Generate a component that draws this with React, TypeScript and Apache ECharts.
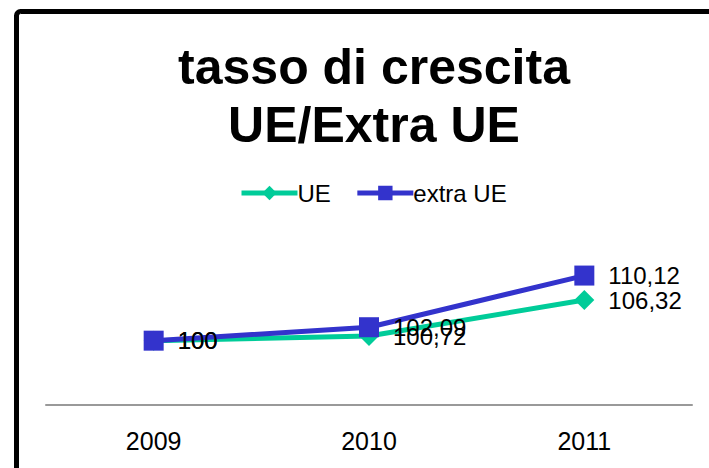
import React, { useEffect, useRef } from "react";
import * as echarts from "echarts";

const categories = ["2009", "2010", "2011"];
const ueValues = [100, 100.72, 106.32];
const extraUeValues = [100, 102.09, 110.12];
const titleText = "tasso di crescita\nUE/Extra UE";

const fmt = (v: number) => String(v).replace(".", ",");

export default function App() {
  const ref = useRef<HTMLDivElement>(null);
  useEffect(() => {
    if (!ref.current) return;
    const chart = echarts.init(ref.current, null, { renderer: "svg" });
    const font = "'Liberation Sans', Arial, sans-serif";
    chart.setOption({
      animation: false,
      backgroundColor: "#ffffff",
      textStyle: { fontFamily: font },
      title: {
        text: titleText,
        left: 369,
        top: 33,
        textAlign: "center",
        textStyle: {
          fontFamily: font,
          fontSize: 50,
          fontWeight: "bold",
          lineHeight: 58,
          color: "#000",
        },
      },
      legend: {
        left: 234,
        top: 176,
        itemWidth: 56,
        itemHeight: 18,
        itemGap: 24,
        lineStyle: { width: 5 },
        textStyle: { fontFamily: font, fontSize: 24, color: "#000", padding: [0, 0, 0, -5] },
        data: ["UE", "extra UE"],
      },
      grid: { left: 46, right: 17, top: 212, bottom: 63, containLabel: false },
      xAxis: {
        type: "category",
        data: categories,
        boundaryGap: true,
        axisLine: { show: true, lineStyle: { color: "#999", width: 2 } },
        axisTick: { show: false },
        axisLabel: { fontFamily: font, fontSize: 25, color: "#000", margin: 23 },
      },
      yAxis: {
        type: "value",
        min: 90,
        max: 120,
        show: false,
        splitLine: { show: false },
      },
      series: [
        {
          name: "UE",
          type: "line",
          data: ueValues,
          symbol: "diamond",
          symbolSize: 20,
          color: "#00CC99",
          lineStyle: { width: 5, color: "#00CC99" },
          itemStyle: { color: "#00CC99" },
          label: {
            show: true,
            position: "right",
            distance: 14,
            fontFamily: font,
            fontSize: 24,
            color: "#000",
            formatter: (p: any) => fmt(p.value),
          },
          z: 2,
        },
        {
          name: "extra UE",
          type: "line",
          data: extraUeValues,
          symbol: "rect",
          symbolSize: 20,
          color: "#3333CC",
          lineStyle: { width: 5, color: "#3333CC" },
          itemStyle: { color: "#3333CC" },
          label: {
            show: true,
            position: "right",
            distance: 14,
            fontFamily: font,
            fontSize: 24,
            color: "#000",
            formatter: (p: any) => fmt(p.value),
          },
          z: 3,
        },
      ],
      graphic: [
        {
          type: "rect",
          shape: { x: 16.5, y: 11.5, width: 1000, height: 1000, r: 4 },
          style: { fill: "none", stroke: "#000", lineWidth: 5 },
          z: 100,
        },
      ],
    });
    return () => chart.dispose();
  }, []);
  return (
    <div
      ref={ref}
      style={{ position: "fixed", left: 0, top: 0, width: 709, height: 468 }}
    />
  );
}
